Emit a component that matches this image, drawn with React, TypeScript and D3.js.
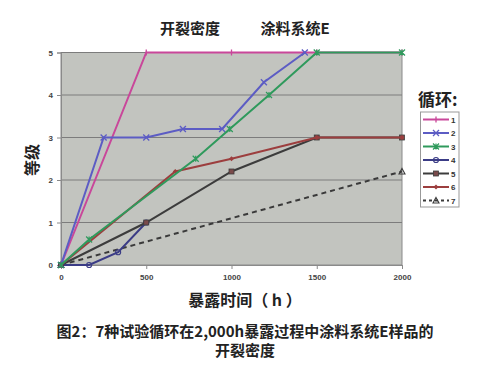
import React, { useEffect, useRef } from 'react';
import * as d3 from 'd3';

// 暴露时间 (h) / 等级 for each test cycle
const cycle1Hours = [0, 500, 1000, 1500, 2000];
const cycle1Rating = [0, 5, 5, 5, 5];
const cycle2Hours = [0, 250, 500, 715, 945, 1190, 1430];
const cycle2Rating = [0, 3, 3, 3.2, 3.2, 4.3, 5];
const cycle3Hours = [0, 165, 790, 990, 1220, 1500, 2000];
const cycle3Rating = [0, 0.6, 2.5, 3.2, 4, 5, 5];
const cycle4Hours = [0, 165, 335, 500];
const cycle4Rating = [0, 0, 0.3, 1];
const cycle5Hours = [0, 500, 1000, 1500, 2000];
const cycle5Rating = [0, 1, 2.2, 3, 3];
const cycle6Hours = [0, 670, 1000, 1500, 2000];
const cycle6Rating = [0, 2.2, 2.5, 3, 3];
const cycle7Hours = [0, 2000];
const cycle7Rating = [0, 2.2];

const seriesNames = ['1', '2', '3', '4', '5', '6', '7'];
const xTicks = [0, 500, 1000, 1500, 2000];
const yTicks = [0, 1, 2, 3, 4, 5];

const series = [
  { name: '1', hours: cycle1Hours, rating: cycle1Rating, color: '#c9479a', marker: 'bar', dash: '' },
  { name: '2', hours: cycle2Hours, rating: cycle2Rating, color: '#5c5cc4', marker: 'x', dash: '' },
  { name: '3', hours: cycle3Hours, rating: cycle3Rating, color: '#2f9a5c', marker: 'star', dash: '' },
  { name: '4', hours: cycle4Hours, rating: cycle4Rating, color: '#3b3c86', marker: 'circle', dash: '' },
  { name: '5', hours: cycle5Hours, rating: cycle5Rating, color: '#3c3c3c', marker: 'square', dash: '' },
  { name: '6', hours: cycle6Hours, rating: cycle6Rating, color: '#9c3e3e', marker: 'diamond', dash: '' },
  { name: '7', hours: cycle7Hours, rating: cycle7Rating, color: '#3a3a3a', marker: 'triangle', dash: '5,4' },
];

const drawOrder = ['7', '4', '5', '1', '6', '2', '3'];

function drawMarker(g: any, kind: string, x: number, y: number, color: string) {
  if (kind === 'bar') {
    g.append('line').attr('x1', x).attr('x2', x).attr('y1', y - 3).attr('y2', y + 3)
      .attr('stroke', color).attr('stroke-width', 1.3);
  } else if (kind === 'x') {
    g.append('path').attr('d', `M${x - 3},${y - 3}L${x + 3},${y + 3}M${x - 3},${y + 3}L${x + 3},${y - 3}`)
      .attr('stroke', color).attr('stroke-width', 1.3);
  } else if (kind === 'star') {
    g.append('path').attr('d', `M${x - 3},${y - 3}L${x + 3},${y + 3}M${x - 3},${y + 3}L${x + 3},${y - 3}M${x},${y - 3}L${x},${y + 3}`)
      .attr('stroke', color).attr('stroke-width', 1.2);
  } else if (kind === 'circle') {
    g.append('circle').attr('cx', x).attr('cy', y).attr('r', 2.5)
      .attr('fill', 'none').attr('stroke', color).attr('stroke-width', 1.2);
  } else if (kind === 'square') {
    g.append('rect').attr('x', x - 2.5).attr('y', y - 2.5).attr('width', 5).attr('height', 5)
      .attr('fill', '#7a4a4a').attr('stroke', color).attr('stroke-width', 0.8);
  } else if (kind === 'diamond') {
    g.append('path').attr('d', `M${x},${y - 2.5}L${x + 2.5},${y}L${x},${y + 2.5}L${x - 2.5},${y}Z`)
      .attr('fill', color);
  } else if (kind === 'triangle') {
    g.append('path').attr('d', `M${x},${y - 3}L${x + 3},${y + 2.5}L${x - 3},${y + 2.5}Z`)
      .attr('fill', 'none').attr('stroke', color).attr('stroke-width', 1.1);
  }
}

function CrackChart() {
  const ref = useRef<SVGSVGElement>(null);

  useEffect(() => {
    const svg = d3.select(ref.current);
    svg.selectAll('*').remove();

    const left = 61, right = 402, top = 52.5, bottom = 265;
    const font = '"Noto Sans CJK SC", "Noto Sans", sans-serif';

    const x = d3.scaleLinear().domain([0, 2000]).range([left, right]);
    const y = d3.scaleLinear().domain([0, 5]).range([bottom, top]);

    svg.append('rect').attr('width', 500).attr('height', 367).attr('fill', '#fff');

    // title
    svg.append('text').attr('x', 190).attr('y', 34).attr('text-anchor', 'middle')
      .attr('font-family', font).attr('font-size', 15).attr('font-weight', 'bold').attr('fill', '#222')
      .text('开裂密度');
    svg.append('text').attr('x', 295).attr('y', 34).attr('text-anchor', 'middle')
      .attr('font-family', font).attr('font-size', 15).attr('font-weight', 'bold').attr('fill', '#222')
      .text('涂料系统E');

    // plot area
    svg.append('rect').attr('x', left).attr('y', top).attr('width', right - left).attr('height', bottom - top)
      .attr('fill', '#c2c4bf').attr('stroke', '#8a8a8a').attr('stroke-width', 1);

    svg.append('g').selectAll('line').data(yTicks.slice(1)).enter().append('line')
      .attr('x1', left).attr('x2', right)
      .attr('y1', d => y(d)).attr('y2', d => y(d))
      .attr('stroke', '#7c7c7c').attr('stroke-width', 1);

    const yAxis = svg.append('g').attr('transform', `translate(${left},0)`)
      .call(d3.axisLeft(y).tickValues(yTicks).tickFormat(d3.format('d')).tickSize(4).tickPadding(4));
    const xAxis = svg.append('g').attr('transform', `translate(0,${bottom})`)
      .call(d3.axisBottom(x).tickValues(xTicks).tickFormat(d3.format('d')).tickSize(4).tickPadding(5));
    [yAxis, xAxis].forEach(a => {
      a.select('.domain').attr('stroke', '#8a8a8a');
      a.selectAll('line').attr('stroke', '#8a8a8a');
      a.selectAll('text').attr('font-family', 'Arial, "Liberation Sans", sans-serif')
        .attr('font-size', 8).attr('font-weight', 'bold').attr('fill', '#444');
    });

    // lines
    const line = d3.line<[number, number]>().x(d => x(d[0])).y(d => y(d[1]));
    drawOrder.forEach(n => {
      const s = series.find(v => v.name === n)!;
      const pts: [number, number][] = s.hours.map((h, i) => [h, s.rating[i]]);
      svg.append('path').datum(pts).attr('d', line)
        .attr('fill', 'none').attr('stroke', s.color).attr('stroke-width', 2)
        .attr('stroke-dasharray', s.dash || null);
      const mg = svg.append('g');
      pts.forEach(p => drawMarker(mg, s.marker, x(p[0]), y(p[1]), s.color));
    });

    // axis titles
    svg.append('text').attr('transform', 'translate(38,160) rotate(-90)').attr('text-anchor', 'middle')
      .attr('font-family', font).attr('font-size', 16).attr('font-weight', 'bold').attr('fill', '#222')
      .text('等级');
    svg.append('text').attr('x', 245).attr('y', 306).attr('text-anchor', 'middle')
      .attr('font-family', font).attr('font-size', 16).attr('font-weight', 'bold').attr('fill', '#222')
      .text('暴露时间（ h ）');

    // legend
    svg.append('text').attr('x', 418).attr('y', 106)
      .attr('font-family', font).attr('font-size', 17).attr('font-weight', 'bold').attr('fill', '#222')
      .text('循环:');
    svg.append('rect').attr('x', 420.5).attr('y', 112).attr('width', 38.5).attr('height', 95)
      .attr('fill', '#fff').attr('stroke', '#999').attr('stroke-width', 1);
    const lg = svg.append('g');
    seriesNames.forEach((n, i) => {
      const s = series.find(v => v.name === n)!;
      const ly = 119.5 + i * 13.5;
      lg.append('line').attr('x1', 423).attr('x2', 449).attr('y1', ly).attr('y2', ly)
        .attr('stroke', s.color).attr('stroke-width', 2).attr('stroke-dasharray', s.dash ? '3,3' : null);
      drawMarker(lg, s.marker, 436, ly, s.color);
      lg.append('text').attr('x', 451).attr('y', ly + 3)
        .attr('font-family', 'Arial, "Liberation Sans", sans-serif').attr('font-size', 8)
        .attr('font-weight', 'bold').attr('fill', '#333').text(n);
    });

    // caption
    svg.append('text').attr('x', 245).attr('y', 337).attr('text-anchor', 'middle')
      .attr('font-family', font).attr('font-size', 15).attr('font-weight', 'bold').attr('fill', '#222')
      .text('图2：7种试验循环在2,000h暴露过程中涂料系统E样品的');
    svg.append('text').attr('x', 245).attr('y', 356).attr('text-anchor', 'middle')
      .attr('font-family', font).attr('font-size', 15).attr('font-weight', 'bold').attr('fill', '#222')
      .text('开裂密度');
  }, []);

  return <svg ref={ref} width={500} height={367} style={{ display: 'block' }}></svg>;
}

export default function App() {
  return (
    <div style={{ margin: -8 }}>
      <CrackChart />
    </div>
  );
}
